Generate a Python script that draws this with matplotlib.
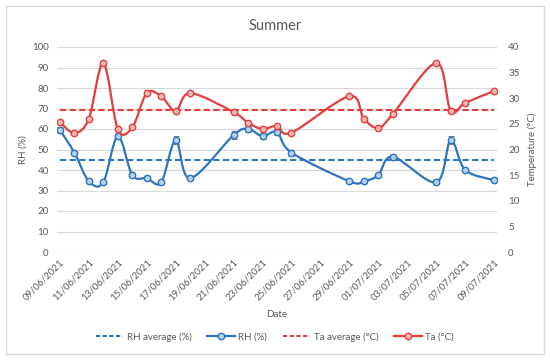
import numpy as np
import matplotlib
matplotlib.use('Agg')
import matplotlib.pyplot as plt
import matplotlib.dates as mdates
from matplotlib.path import Path
from matplotlib.patches import PathPatch, Rectangle
from matplotlib.lines import Line2D

plt.rcParams['font.family'] = ['Lato', 'DejaVu Sans']

# data
dates = ['2021-06-09', '2021-06-10', '2021-06-11', '2021-06-12', '2021-06-13',
         '2021-06-14', '2021-06-15', '2021-06-16', '2021-06-17', '2021-06-18',
         '2021-06-21', '2021-06-22', '2021-06-23', '2021-06-24', '2021-06-25',
         '2021-06-29', '2021-06-30', '2021-07-01', '2021-07-02', '2021-07-05',
         '2021-07-06', '2021-07-07', '2021-07-09']
rh = [59.5, 48.5, 34.5, 34.0, 56.5, 37.5, 36.0, 34.0, 54.5, 36.0,
      57.0, 60.0, 56.5, 58.5, 48.5, 34.5, 34.5, 37.5, 46.5, 34.0,
      54.5, 40.0, 35.0]
rh_err = [1.5, 1.0, 1.0, 1.0, 1.5, 1.0, 1.0, 1.0, 2.0, 1.0,
          2.0, 1.5, 1.5, 1.5, 1.5, 1.0, 1.0, 1.0, 1.5, 1.0,
          2.0, 1.0, 1.0]
ta = [25.4, 23.2, 26.0, 36.9, 24.0, 24.3, 31.0, 30.4, 27.5, 31.0,
      27.3, 25.2, 24.0, 24.6, 23.3, 30.4, 26.0, 24.2, 26.9, 36.9,
      27.5, 29.1, 31.4]
rh_avg = 45.0
ta_avg = 27.7
tick_dates = ['2021-06-09', '2021-06-11', '2021-06-13', '2021-06-15', '2021-06-17',
              '2021-06-19', '2021-06-21', '2021-06-23', '2021-06-25', '2021-06-27',
              '2021-06-29', '2021-07-01', '2021-07-03', '2021-07-05', '2021-07-07',
              '2021-07-09']

BLUE = '#2E75C0'
BLUE_FACE = '#B4D2F0'
RED = '#E33E3E'
RED_FACE = '#F7B8B8'
GRID = '#D9D9D9'
TXT = '#595959'


def smooth_path(x, y):
    # excel-like smoothed line: catmull-rom segments as cubic bezier
    pts = np.column_stack([x, y])
    n = len(pts)
    verts = [pts[0]]
    codes = [Path.MOVETO]
    for i in range(n - 1):
        p0 = pts[i - 1] if i > 0 else pts[i]
        p1 = pts[i]
        p2 = pts[i + 1]
        p3 = pts[i + 2] if i + 2 < n else pts[i + 1]
        c1 = p1 + (p2 - p0) / 6
        c2 = p2 - (p3 - p1) / 6
        verts += [c1, c2, p2]
        codes += [Path.CURVE4] * 3
    return Path(verts, codes)


x = mdates.date2num(np.array(dates, dtype='datetime64[D]'))
xt = mdates.date2num(np.array(tick_dates, dtype='datetime64[D]'))

fig = plt.figure(figsize=(5.5, 3.6), dpi=100)
ax = fig.add_axes([57 / 550, 1 - 252 / 360, 440 / 550, 205 / 360])
ax2 = ax.twinx()

# RH on left axis
ax.plot([x[0], x[-1]], [rh_avg, rh_avg], color=BLUE, lw=1.5, ls=(0, (3, 1.6)), zorder=2)
ax.add_patch(PathPatch(smooth_path(x, rh), fill=False, edgecolor=BLUE, lw=1.6, zorder=3))
ax.errorbar(x, rh, yerr=rh_err, fmt='none', ecolor='#7F7F7F', elinewidth=0.8,
            capsize=2, capthick=0.8, zorder=3)
ax.plot(x, rh, ls='none', marker='o', ms=4.6, mfc=BLUE_FACE, mec=BLUE, mew=1, zorder=4)

# Ta on right axis
ax2.plot([x[0], x[-1]], [ta_avg, ta_avg], color=RED, lw=1.5, ls=(0, (3, 1.6)), zorder=2)
ax2.add_patch(PathPatch(smooth_path(x, ta), fill=False, edgecolor=RED, lw=1.6, zorder=3))
ax2.plot(x, ta, ls='none', marker='o', ms=4.6, mfc=RED_FACE, mec=RED, mew=1, zorder=4)

ax.set_ylim(0, 100)
ax.set_yticks(np.arange(0, 101, 10))
ax2.set_ylim(0, 40)
ax2.set_yticks(np.arange(0, 41, 5))
ax.set_xlim(x[0] - 0.2, x[-1] + 0.2)
ax.set_xticks(xt)
ax.set_xticklabels([mdates.num2date(v).strftime('%d/%m/%Y') for v in xt],
                   rotation=45, ha='right', rotation_mode='anchor')

ax.grid(axis='y', color=GRID, lw=0.9)
ax.set_axisbelow(True)
for a in (ax, ax2):
    for s in a.spines.values():
        s.set_visible(False)
    a.tick_params(length=0, labelsize=7, colors=TXT)
ax.tick_params(axis='y', pad=6)
ax2.tick_params(axis='y', pad=8)
ax.tick_params(axis='x', pad=4)

ax.set_ylabel('RH (%)', fontsize=7, color=TXT)
ax.yaxis.set_label_coords(-0.068, 0.5)
ax2.set_ylabel('Temperature (°C)', fontsize=7, color=TXT)
ax2.yaxis.set_label_coords(1.07, 0.5)
ax.set_xlabel('Date', fontsize=7, color=TXT)
ax.xaxis.set_label_coords(0.5, -0.283)

fig.text(0.5, 1 - 26 / 360, 'Summer', ha='center', va='center', fontsize=10.5, color=TXT)

handles = [
    Line2D([], [], color=BLUE, lw=1.5, ls=(0, (2, 1.2))),
    Line2D([], [], color=BLUE, lw=1.6, marker='o', ms=4.6, mfc=BLUE_FACE, mec=BLUE),
    Line2D([], [], color=RED, lw=1.5, ls=(0, (2, 1.2))),
    Line2D([], [], color=RED, lw=1.6, marker='o', ms=4.6, mfc=RED_FACE, mec=RED),
]
labels = ['RH average (%)', 'RH (%)', 'Ta average (°C)', 'Ta (°C)']
fig.legend(handles, labels, loc='center', bbox_to_anchor=(0.5, 1 - 337 / 360), ncol=4,
           frameon=False, fontsize=7, handlelength=2.8, columnspacing=1.6,
           handletextpad=0.4, labelcolor=TXT)

fig.patches.append(Rectangle((6 / 550, 6 / 360), 538 / 550, 348 / 360, fill=False,
                             edgecolor=GRID, lw=1, transform=fig.transFigure))

fig.savefig('out.png', dpi=100)
